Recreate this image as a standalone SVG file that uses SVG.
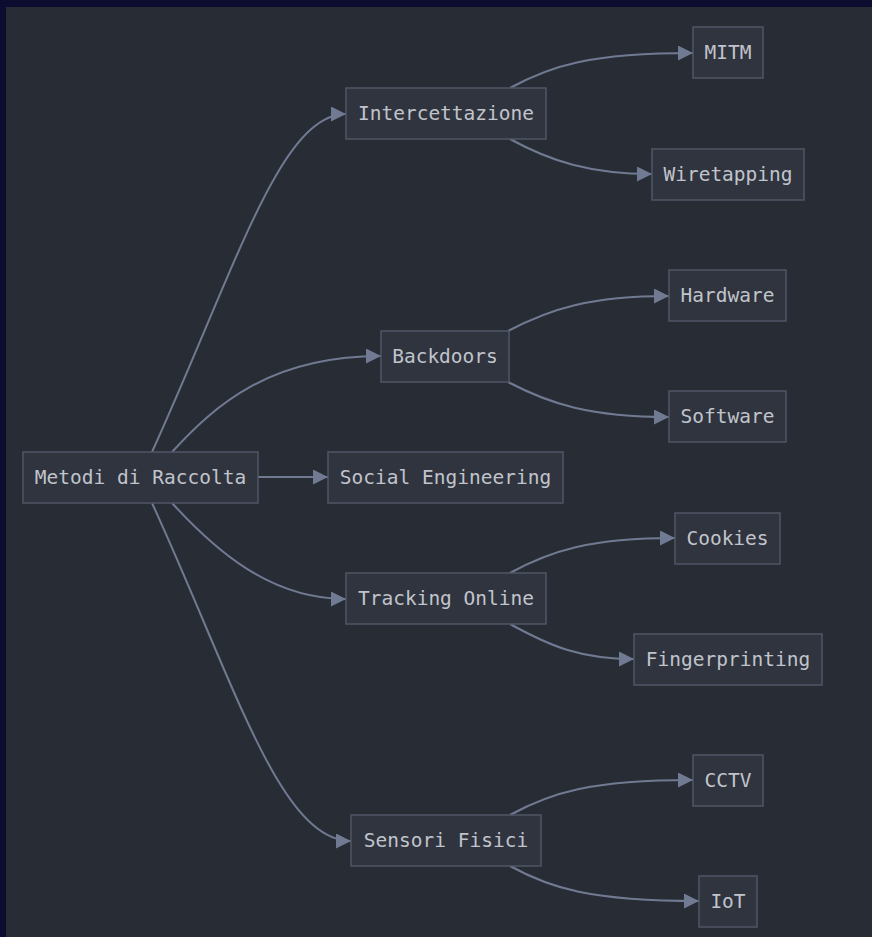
<svg xmlns="http://www.w3.org/2000/svg" width="872" height="937" viewBox="0 0 872 937">
  <style>
    .node rect { fill: #30343e; stroke: #4f5566; stroke-width: 1.5; }
    .node text { fill: #c0c4cc; font-family: "DejaVu Sans Mono", "Liberation Mono", monospace; font-size: 19.5px; text-anchor: middle; dominant-baseline: central; }
    .edges path { fill: none; stroke: #707a92; stroke-width: 2; marker-end: url(#arrow); }
  </style>
  <defs>
    <marker id="arrow" viewBox="0 0 10 10" refX="10" refY="5" markerWidth="17" markerHeight="15" markerUnits="userSpaceOnUse" orient="auto">
      <path d="M0,0 L10,5 L0,10 z" fill="#707a92"/>
    </marker>
  </defs>

  <!-- frame and canvas -->
  <rect x="0" y="0" width="872" height="937" fill="#0c0c30"/>
  <rect x="6" y="7" width="866" height="930" fill="#282c34"/>

  <g class="edges">
    <path d="M152,452 C235,270 280,114 346,114"/>
    <path d="M172,452 C215,405 270,356 381,356"/>
    <path d="M258,477 L328,477"/>
    <path d="M172,503 C215,550 270,599 346,599"/>
    <path d="M152,503 C235,684 280,841 351,841"/>
    <path d="M510,88 C550,66 590,53 693,53"/>
    <path d="M510,139 C550,161 590,174 652,174"/>
    <path d="M508,331 C550,309 590,296 669,296"/>
    <path d="M508,382 C550,404 590,417 669,417"/>
    <path d="M510,573 C550,551 590,538 675,538"/>
    <path d="M510,624 C550,646 580,659 634,659"/>
    <path d="M510,815 C550,793 590,780 693,780"/>
    <path d="M510,866 C550,888 590,901 699,901"/>
  </g>

  <g id="metodi" class="node"><rect x="23" y="452" width="235" height="51"/><text x="140.5" y="477.5">Metodi di Raccolta</text></g>
  <g id="intercettazione" class="node"><rect x="346" y="88" width="200" height="51"/><text x="446" y="113.5">Intercettazione</text></g>
  <g id="mitm" class="node"><rect x="693" y="27" width="70" height="51"/><text x="728" y="52.5">MITM</text></g>
  <g id="wiretapping" class="node"><rect x="652" y="149" width="152" height="51"/><text x="728" y="174.5">Wiretapping</text></g>
  <g id="backdoors" class="node"><rect x="381" y="331" width="128" height="51"/><text x="445" y="356.5">Backdoors</text></g>
  <g id="hardware" class="node"><rect x="669" y="270" width="117" height="51"/><text x="727.5" y="295.5">Hardware</text></g>
  <g id="software" class="node"><rect x="669" y="391" width="117" height="51"/><text x="727.5" y="416.5">Software</text></g>
  <g id="social" class="node"><rect x="328" y="452" width="235" height="51"/><text x="445.5" y="477.5">Social Engineering</text></g>
  <g id="cookies" class="node"><rect x="675" y="513" width="105" height="51"/><text x="727.5" y="538.5">Cookies</text></g>
  <g id="tracking" class="node"><rect x="346" y="573" width="200" height="51"/><text x="446" y="598.5">Tracking Online</text></g>
  <g id="fingerprinting" class="node"><rect x="634" y="634" width="188" height="51"/><text x="728" y="659.5">Fingerprinting</text></g>
  <g id="cctv" class="node"><rect x="693" y="755" width="70" height="51"/><text x="728" y="780.5">CCTV</text></g>
  <g id="sensori" class="node"><rect x="351" y="815" width="190" height="51"/><text x="446" y="840.5">Sensori Fisici</text></g>
  <g id="iot" class="node"><rect x="699" y="876" width="58" height="51"/><text x="728" y="901.5">IoT</text></g>
</svg>
